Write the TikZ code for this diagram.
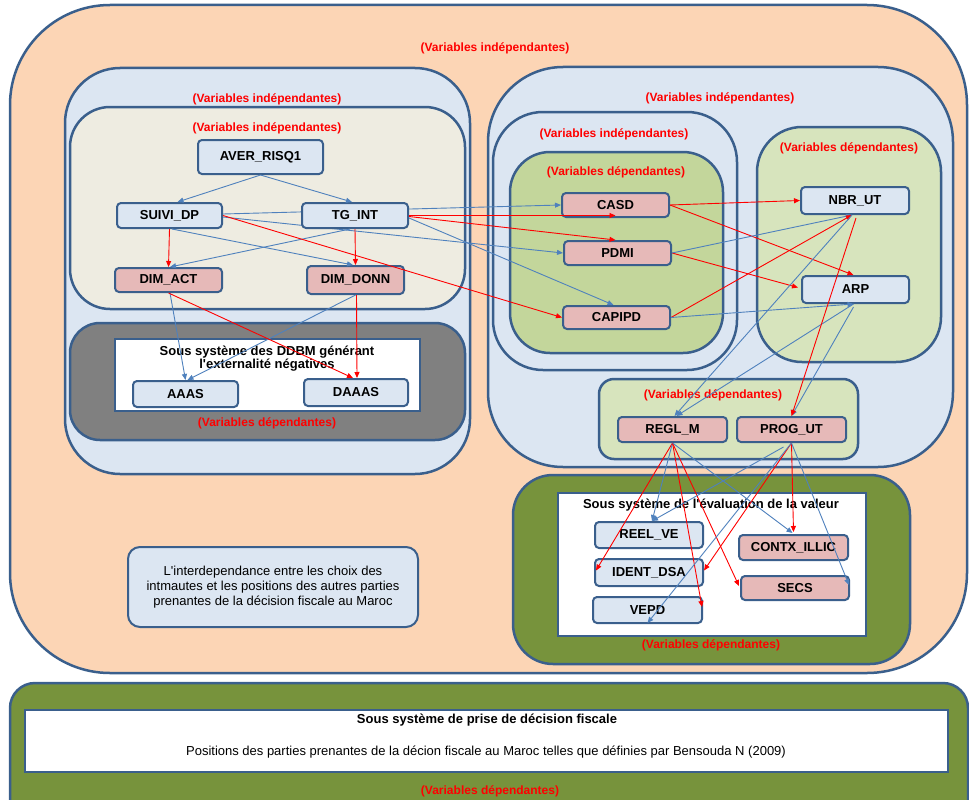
\documentclass[tikz,border=0pt]{standalone}
\usepackage{fontspec}
\setmainfont{Liberation Sans}
\usetikzlibrary{arrows.meta,calc}
\definecolor{peach}{HTML}{FCD5B5}
\definecolor{lblue}{HTML}{DCE6F2}
\definecolor{beige}{HTML}{EEECE1}
\definecolor{bord}{HTML}{3A5F8C}
\definecolor{grayp}{HTML}{808080}
\definecolor{greenp}{HTML}{C3D69B}
\definecolor{lgreen}{HTML}{D7E4BD}
\definecolor{olive}{HTML}{77933C}
\definecolor{pinkc}{HTML}{E6B9B8}
\definecolor{arrblue}{HTML}{4F81BD}
\definecolor{redc}{HTML}{FF0000}
\pgfdeclarelayer{panels}
\pgfdeclarelayer{behind}
\pgfsetlayers{panels,behind,main}
\begin{document}
\begin{tikzpicture}[x=1pt,y=-1pt,
  panel/.style={draw=bord, line width=2.5pt},
  nd/.style={draw=bord, line width=2pt, rounded corners=4pt, inner sep=0pt,
     font=\bfseries\fontsize{13}{15}\selectfont},
  nb/.style={nd, fill=lblue},
  np/.style={nd, fill=pinkc},
  lab/.style={text=redc, inner sep=0pt, font=\bfseries\fontsize{12}{14}\selectfont},
  ttl/.style={inner sep=0pt, align=center, font=\bfseries\fontsize{13}{13}\selectfont},
  bl/.style={draw=arrblue, line width=0.9pt, -{Triangle[length=6pt,width=5pt]}},
  rd/.style={draw=redc, line width=0.9pt, -{Triangle[length=6pt,width=5pt]}}
]
\useasboundingbox (0,0) rectangle (969,800);
\clip (0,0) rectangle (969,800);

\begin{pgfonlayer}{panels}
% outer peach
\draw[panel, fill=peach, rounded corners=100pt] (10,5) rectangle (967,673);
\node[lab] (lOuter) at (495,48) {(Variables indépendantes)};
% bottom green
\draw[panel, fill=olive, rounded corners=25pt] (10,683) rectangle (968,830);
\draw[panel, fill=white] (25,710) rectangle (948,772);
\node[inner sep=0pt, font=\bfseries\fontsize{13}{14}\selectfont] (tDec) at (487,720) {Sous système de prise de décision fiscale};
\node[inner sep=0pt, font=\fontsize{13}{14}\selectfont] (tPos) at (486,752) {Positions des parties prenantes  de la décion fiscale au Maroc telles  que définies par Bensouda N (2009)};
\node[lab] (lBottom) at (490,791) {(Variables dépendantes)};
% left panels
\draw[panel, fill=lblue, rounded corners=55pt] (65,68) rectangle (470,474);
\node[lab] (lLeft) at (267,99) {(Variables indépendantes)};
\draw[panel, fill=beige, rounded corners=40pt] (70,107) rectangle (465,309);
\node[lab] (lBeige) at (267,128) {(Variables indépendantes)};
\draw[panel, fill=grayp, rounded corners=30pt] (70,323) rectangle (465,440);
\draw[panel, fill=white] (115,339) rectangle (420,411);
\node[ttl] (tDDBM) at (267,358.5) {Sous système des DDBM générant\\l\textquotesingle externalité  négatives};
\node[lab] (lGray) at (267,423) {(Variables dépendantes)};
% right panels
\draw[panel, fill=lblue, rounded corners=75pt] (488,67) rectangle (953,467);
\node[lab] (lRight) at (720,98) {(Variables indépendantes)};
\draw[panel, fill=lblue, rounded corners=50pt] (493,112) rectangle (737,370);
\node[lab] (lMid) at (614,134) {(Variables indépendantes)};
\draw[panel, fill=greenp, rounded corners=40pt] (510,152) rectangle (723,353);
\node[lab] (lGreen) at (616,172) {(Variables dépendantes)};
\draw[panel, fill=lgreen, rounded corners=45pt] (757,127) rectangle (941,362);
\node[lab] (lLG) at (849,148) {(Variables dépendantes)};
\draw[panel, fill=lgreen, rounded corners=15pt] (599,379) rectangle (858,459);
\node[lab] (lLow) at (713,395) {(Variables dépendantes)};
% evaluation panel
\draw[panel, fill=olive, rounded corners=40pt] (513,475) rectangle (910,664);
\draw[panel, fill=white] (558,493) rectangle (866,636);
\node[ttl] (tEval) at (711,505) {Sous système de l\textquotesingle évaluation de la valeur};
\node[lab] (lOlive) at (711,645) {(Variables dépendantes)};
% description box
\node[draw=bord, line width=2pt, fill=lblue, rounded corners=12pt, inner sep=0pt,
      minimum width=290pt, minimum height=80pt, align=center,
      font=\fontsize{13}{15}\selectfont] (desc) at (273,587)
  {L\textquotesingle interdependance  entre  les choix des\\intmautes  et les positions des autres  parties\\prenantes  de la décision fiscale au Maroc};
\end{pgfonlayer}

% nodes
\node[nb, minimum width=125pt, minimum height=34pt] (AVER) at (260.5,157) {AVER\_RISQ1};
\node[nb, minimum width=105pt, minimum height=25pt] (SUIVI) at (169.5,215.5) {SUIVI\_DP};
\node[nb, minimum width=106pt, minimum height=25pt] (TG) at (355,215.5) {TG\_INT};
\node[np, minimum width=107pt, minimum height=24pt] (DIMACT) at (168.5,280) {DIM\_ACT};
\node[np, minimum width=97pt, minimum height=28pt] (DIMDONN) at (355.5,280) {DIM\_DONN};
\node[nb, minimum width=105pt, minimum height=26pt] (AAAS) at (185.5,394) {AAAS};
\node[nb, minimum width=104pt, minimum height=27pt] (DAAAS) at (356,392.5) {DAAAS};
\node[np, minimum width=107pt, minimum height=24pt] (CASD) at (615.5,205) {CASD};
\node[np, minimum width=107pt, minimum height=24pt] (PDMI) at (617.5,253) {PDMI};
\node[np, minimum width=107pt, minimum height=23pt] (CAPIPD) at (616.5,317.5) {CAPIPD};
\node[nb, minimum width=108pt, minimum height=27pt] (NBR) at (855,200.5) {NBR\_UT};
\node[nb, minimum width=107pt, minimum height=27pt] (ARP) at (855.5,289.5) {ARP};
\node[np, minimum width=109pt, minimum height=25pt] (REGL) at (672.5,429.5) {REGL\_M};
\node[np, minimum width=109pt, minimum height=25pt] (PROG) at (791.5,429.5) {PROG\_UT};
\node[nb, minimum width=108pt, minimum height=26pt] (REEL) at (649,535) {REEL\_VE};
\node[nb, minimum width=108pt, minimum height=27pt] (IDENT) at (649,572.5) {IDENT\_DSA};
\node[nb, minimum width=109pt, minimum height=26pt] (VEPD) at (647.5,610) {VEPD};
\node[np, minimum width=109pt, minimum height=25pt] (CONTX) at (793.5,547.5) {CONTX\_ILLIC};
\node[np, minimum width=108pt, minimum height=24pt] (SECS) at (795,588) {SECS};

% connectors hidden behind TG_INT
\begin{pgfonlayer}{behind}
\draw[bl] ($(SUIVI.east)+(0,-1.5)$) -- (CASD.west);
\draw[bl] ($(SUIVI.east)+(0,1.5)$) -- (PDMI.west);
\end{pgfonlayer}

% left connectors
\draw[bl] (AVER.south) -- ($(SUIVI.north)+(8,0)$);
\draw[bl] (AVER.south) -- ($(TG.north)+(-3,0)$);
\draw[rd] (SUIVI.south) -- (DIMACT.north);
\draw[rd] (TG.south) -- (DIMDONN.north);
\draw[bl] ($(TG.south)+(-5,0)$) -- ($(DIMACT.north)+(1.5,0)$);
\draw[bl] ($(SUIVI.south)+(2.5,0)$) -- ($(DIMDONN.north)+(-2.5,0)$);
\draw[rd] (SUIVI.east) -- (CAPIPD.west);
\draw[bl] ($(DIMACT.south)+(1.5,0)$) -- (AAAS.north);
\draw[bl] (DIMDONN.south) -- ($(AAAS.north)+(2,0)$);
\draw[rd] (DIMACT.south) -- ($(DAAAS.north)+(-3,0)$);
\draw[rd] ($(DIMDONN.south)+(1,0)$) -- ($(DAAAS.north)+(1,0)$);

% TG_INT to right
\draw[rd] (TG.east) -- (TG.east -| CASD.south);
\draw[rd] ($(TG.east)+(0,1)$) -- ($(PDMI.north)+(-2,0)$);
\draw[bl] ($(TG.east)+(0,2.5)$) -- ($(CAPIPD.north)+(-3,0)$);

% right connectors
\draw[rd] (CASD.east) -- (NBR.west);
\draw[rd] (CASD.east) -- ($(ARP.north)+(-2,0)$);
\draw[rd] (PDMI.east) -- ($(ARP.west)+(-3,-2)$);
\draw[bl] (PDMI.east) -- ($(NBR.south)+(-3,0)$);
\draw[rd] (CAPIPD.east) -- ($(NBR.south)+(-3,0)$);
\draw[bl] (CAPIPD.east) -- ($(ARP.south)+(-2,0)$);
\draw[bl] ($(NBR.south)+(-3,0)$) -- ($(REGL.north)+(2,0)$);
\draw[bl] ($(ARP.south)+(-2,0)$) -- ($(REGL.north)+(4,0)$);
\draw[bl] ($(ARP.south)+(-2,3)$) -- (PROG.north);
\draw[rd] ($(NBR.south)+(1,3)$) -- (PROG.north);

% lower connectors
\draw[rd] (REGL.south) -- ($(IDENT.west)+(2,-2)$);
\draw[bl] (REGL.south) -- ($(REEL.north)+(3,0)$);
\draw[rd] (REGL.south) -- ($(VEPD.east)+(-1,-3)$);
\draw[rd] (REGL.south) -- ($(SECS.west)+(-1,-2)$);
\draw[bl] (REGL.south) -- ($(CONTX.north)+(-1,-1)$);
\draw[rd] (PROG.south) -- ($(CONTX.north)+(0,-2)$);
\draw[rd] (PROG.south) -- ($(IDENT.east)+(0,-2)$);
\draw[bl] (PROG.south) -- ($(VEPD.south)+(0,-1)$);
\draw[bl] (PROG.south) -- ($(SECS.east)+(-1,-3)$);
\draw[bl] ($(PROG.south)+(-8,4)$) -- ($(REEL.north)+(3,0)$);
\end{tikzpicture}
\end{document}
